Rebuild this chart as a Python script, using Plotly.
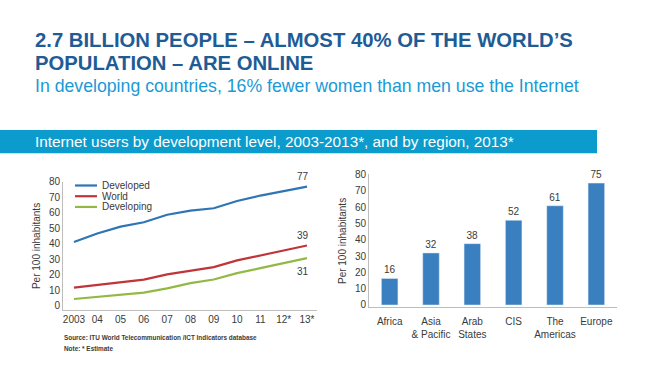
import plotly.graph_objects as go

# ---------------- data ----------------
years = [2003, 2004, 2005, 2006, 2007, 2008, 2009, 2010, 2011, 2012, 2013]
year_labels = ["2003", "04", "05", "06", "07", "08", "09", "10", "11", "12*", "13*"]
developed = [41.0, 46.5, 51.0, 53.8, 58.6, 61.3, 62.8, 67.5, 71.0, 74.0, 76.8]
world = [11.6, 13.4, 15.2, 16.8, 20.2, 22.6, 24.9, 29.2, 32.5, 35.5, 38.8]
developing = [4.3, 5.7, 6.9, 8.4, 11.2, 14.5, 16.9, 21.0, 24.2, 27.5, 30.7]
series_names = ["Developed", "World", "Developing"]
series_colors = ["#2f74b5", "#c0353a", "#93b944"]

regions = ["Africa", "Asia<br>& Pacific", "Arab<br>States", "CIS", "The<br>Americas", "Europe"]
region_values = [16.3, 31.9, 37.6, 51.9, 60.8, 74.7]
bar_color = "#3a7fc0"

title_lines = ["2.7 BILLION PEOPLE – ALMOST 40% OF THE WORLD’S", "POPULATION – ARE ONLINE"]
subtitle = "In developing countries, 16% fewer women than men use the Internet"
band_text = "Internet users by development level, 2003-2013*, and by region, 2013*"
source_lines = ["Source: ITU World Telecommunication /ICT Indicators database", "Note: * Estimate"]

# ---------------- helpers ----------------
W, H = 645, 367
def px(x):
    return x / W
def py(y):
    return 1 - y / H

NARROW = "Liberation Sans Narrow, Arial Narrow, Liberation Sans, sans-serif"
TXT = "#3a3a3a"
AXC = "#bdbdbd"

fig = go.Figure()

all_series = [developed, world, developing]
for name, vals, col in zip(series_names, all_series, series_colors):
    fig.add_trace(go.Scatter(x=years, y=vals, mode="lines", name=name,
                             line=dict(color=col, width=2.2),
                             xaxis="x", yaxis="y", showlegend=False,
                             cliponaxis=False))

fig.add_trace(go.Bar(x=regions, y=region_values, marker=dict(color=bar_color),
                     width=0.4, text=[f"{round(v)}" for v in region_values],
                     textposition="outside", textfont=dict(size=10, color=TXT, family=NARROW),
                     cliponaxis=False, xaxis="x2", yaxis="y2", showlegend=False))

annotations = []
shapes = []

# header
annotations.append(dict(x=px(33), y=py(35), xref="paper", yref="paper", xanchor="left", yanchor="middle",
                        text="<b>" + title_lines[0] + "</b>", showarrow=False,
                        font=dict(size=20.3, color="#1f5c96", family=NARROW)))
annotations.append(dict(x=px(33), y=py(58), xref="paper", yref="paper", xanchor="left", yanchor="middle",
                        text="<b>" + title_lines[1] + "</b>", showarrow=False,
                        font=dict(size=20.3, color="#1f5c96", family=NARROW)))
annotations.append(dict(x=px(33), y=py(82), xref="paper", yref="paper", xanchor="left", yanchor="middle",
                        text=subtitle, showarrow=False,
                        font=dict(size=17.7, color="#1a9ad6", family=NARROW)))
shapes.append(dict(type="rect", xref="paper", yref="paper", x0=0, x1=px(597), y0=py(151), y1=py(127),
                   fillcolor="#0b9bcc", line=dict(width=0), layer="below"))
annotations.append(dict(x=px(33), y=py(139), xref="paper", yref="paper", xanchor="left", yanchor="middle",
                        text=band_text, showarrow=False,
                        font=dict(size=15.3, color="white", family=NARROW)))

# legend (manual, compact)
leg_y = [184, 195, 206]
for name, col, yy in zip(series_names, series_colors, leg_y):
    shapes.append(dict(type="line", xref="paper", yref="paper", x0=px(75), x1=px(97), y0=py(yy), y1=py(yy),
                       line=dict(color=col, width=2.2)))
    annotations.append(dict(x=px(100), y=py(yy), xref="paper", yref="paper", xanchor="left", yanchor="middle",
                            text=name, showarrow=False, font=dict(size=10, color=TXT, family=NARROW)))

# end labels
annotations.append(dict(x=years[-1], y=developed[-1], xref="x", yref="y", text=f"{round(developed[-1])}",
                        showarrow=False, yshift=10, xshift=-4, font=dict(size=10, color=TXT, family=NARROW)))
annotations.append(dict(x=years[-1], y=world[-1], xref="x", yref="y", text=f"{round(world[-1])}",
                        showarrow=False, yshift=10, xshift=-4, font=dict(size=10, color=TXT, family=NARROW)))
annotations.append(dict(x=years[-1], y=developing[-1], xref="x", yref="y", text=f"{round(developing[-1])}",
                        showarrow=False, yshift=-13, xshift=-4, font=dict(size=10, color=TXT, family=NARROW)))

# source
annotations.append(dict(x=px(62), y=py(340), xref="paper", yref="paper", xanchor="left", yanchor="middle",
                        text="<b>" + source_lines[0] + "</b>", showarrow=False,
                        font=dict(size=6.4, color=TXT, family=NARROW)))
annotations.append(dict(x=px(62), y=py(351), xref="paper", yref="paper", xanchor="left", yanchor="middle",
                        text="<b>" + source_lines[1] + "</b>", showarrow=False,
                        font=dict(size=6.4, color=TXT, family=NARROW)))

tickfont = dict(size=10, color=TXT, family=NARROW)
fig.update_layout(
    width=W, height=H, margin=dict(l=0, r=0, t=0, b=0),
    paper_bgcolor="white", plot_bgcolor="white",
    showlegend=False,
    xaxis=dict(domain=[px(63), px(317)], range=[2002.53, 2013.43], tickvals=years, ticktext=year_labels,
               showline=True, linecolor=AXC, linewidth=1, showgrid=False, zeroline=False,
               ticks="", tickfont=tickfont, anchor="y"),
    yaxis=dict(domain=[py(312), py(180)], range=[-3, 80], dtick=10,
               showline=True, linecolor=AXC, linewidth=1, showgrid=False, zeroline=False,
               ticks="", tickfont=tickfont, anchor="x",
               title=dict(text="Per 100 inhabitants", font=tickfont, standoff=6)),
    xaxis2=dict(domain=[px(369), px(617)], range=[-0.5, 5.5],
                showline=True, linecolor=AXC, linewidth=1, showgrid=False, zeroline=False,
                ticks="", tickfont=tickfont, anchor="y2", ticklabelstandoff=5),
    yaxis2=dict(domain=[py(309), py(172.7)], range=[-1.5, 80], dtick=10,
                showline=True, linecolor=AXC, linewidth=1, showgrid=False, zeroline=False,
                ticks="", tickfont=tickfont, anchor="x2",
                title=dict(text="Per 100 inhabitants", font=tickfont, standoff=6)),
    annotations=annotations, shapes=shapes,
    bargap=0.6,
)

fig.write_html("out.html", config={"displayModeBar": False},
               post_script="document.body.style.margin='0';")
